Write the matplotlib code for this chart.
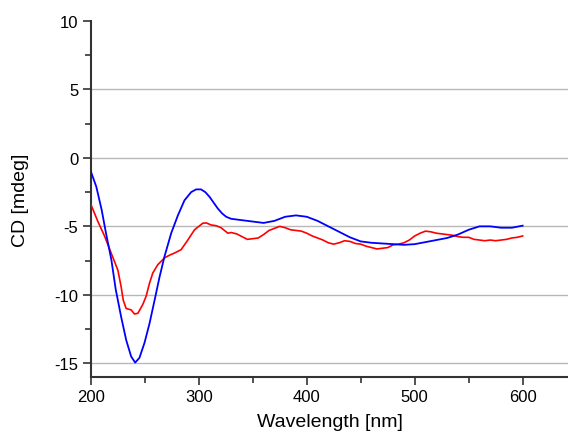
import matplotlib
matplotlib.use("Agg")
import matplotlib.pyplot as plt
from matplotlib.ticker import MultipleLocator

plt.rcParams['font.family'] = ['Liberation Sans', 'DejaVu Sans']
plt.rcParams['axes.unicode_minus'] = False

blue_x = [200, 205, 210, 214, 219, 223, 228, 232.7, 237.3, 241, 245, 249.7, 254.3, 259,
          263.6, 268.2, 274.4, 280.6, 286.7, 292.9, 297.5, 302, 306, 310, 314, 317.6, 321.5,
          325.3, 330, 340, 350, 360, 370, 380, 390, 400, 410, 420, 430, 440, 450, 460, 470,
          480, 490, 500, 510, 520, 530, 540, 550, 560, 570, 580, 590, 600]
blue_y = [-1.0, -2.1, -3.8, -5.5, -7.45, -9.6, -11.6, -13.3, -14.5, -14.95, -14.6, -13.5,
          -12.1, -10.4, -8.7, -7.2, -5.5, -4.2, -3.1, -2.5, -2.3, -2.3, -2.5, -2.85, -3.3,
          -3.7, -4.05, -4.3, -4.45, -4.55, -4.65, -4.75, -4.6, -4.3, -4.2, -4.3, -4.6, -5.0,
          -5.4, -5.8, -6.1, -6.2, -6.25, -6.3, -6.35, -6.3, -6.15, -6.0, -5.85, -5.6, -5.25,
          -5.0, -5.0, -5.1, -5.1, -4.95]

red_x = [200, 206.5, 212.6, 218.8, 225, 228, 230, 232.7, 235, 237.3, 240.4, 243.5, 246,
         248.1, 251.2, 254.3, 257.4, 262, 268.2, 273, 277.5, 283.6, 289.8, 296, 303.7, 307,
         311.4, 316, 320.6, 326.9, 330, 335, 340, 345, 350, 355, 360, 365, 370, 375, 380,
         385, 390, 395, 400, 405, 410, 415, 420, 425, 430, 435, 440, 445, 450, 455, 460, 465,
         470, 475, 480, 485, 490, 495, 500, 505, 510, 515, 520, 525, 530, 535, 540, 545,
         550, 555, 560, 565, 570, 575, 580, 585, 590, 595, 600]
red_y = [-3.4, -4.65, -5.7, -6.95, -8.2, -9.4, -10.4, -11.0, -11.05, -11.1, -11.4, -11.35,
         -11.0, -10.7, -10.1, -9.15, -8.4, -7.8, -7.3, -7.1, -6.95, -6.7, -6.0, -5.25,
         -4.77, -4.75, -4.9, -4.95, -5.1, -5.5, -5.45, -5.55, -5.75, -5.95, -5.9, -5.85,
         -5.6, -5.3, -5.15, -5.0, -5.1, -5.25, -5.3, -5.35, -5.5, -5.7, -5.85, -6.0, -6.2,
         -6.3, -6.2, -6.05, -6.1, -6.25, -6.3, -6.45, -6.55, -6.65, -6.6, -6.55, -6.35,
         -6.3, -6.2, -6.0, -5.7, -5.5, -5.35, -5.4, -5.5, -5.55, -5.6, -5.65, -5.75, -5.8,
         -5.8, -5.95, -6.0, -6.05, -6.0, -6.05, -6.0, -5.95, -5.85, -5.8, -5.7]

x_ticks = [200, 300, 400, 500, 600]
y_ticks = [-15, -10, -5, 0, 5, 10]

fig = plt.figure(figsize=(5.68, 4.39), dpi=100)
ax = fig.add_axes([0.160, 0.139, 0.840, 0.811])

for g in [-15, -10, -5, 0, 5]:
    ax.axhline(g, color='#b8b8b8', lw=1.0, zorder=1)

ax.plot(red_x, red_y, color='#ff0000', lw=1.2, zorder=3)
ax.plot(blue_x, blue_y, color='#0000ff', lw=1.3, zorder=4)

ax.set_xlim(200, 642)
ax.set_ylim(-16, 10)
ax.set_xticks(x_ticks)
ax.set_yticks(y_ticks)
ax.xaxis.set_minor_locator(MultipleLocator(50))
ax.yaxis.set_minor_locator(MultipleLocator(2.5))

for s in ['top', 'right']:
    ax.spines[s].set_visible(False)
for s in ['left', 'bottom']:
    ax.spines[s].set_color('#333333')
    ax.spines[s].set_linewidth(1.5)

ax.tick_params(which='major', direction='out', length=6, width=1.2, color='#333333',
               labelsize=12, pad=3)
ax.tick_params(which='minor', direction='out', length=4, width=1.2, color='#333333')

ax.set_xlabel('Wavelength [nm]', fontsize=14, labelpad=6)
ax.set_ylabel('CD [mdeg]', fontsize=14, labelpad=18)

fig.savefig('out.png', dpi=100)
